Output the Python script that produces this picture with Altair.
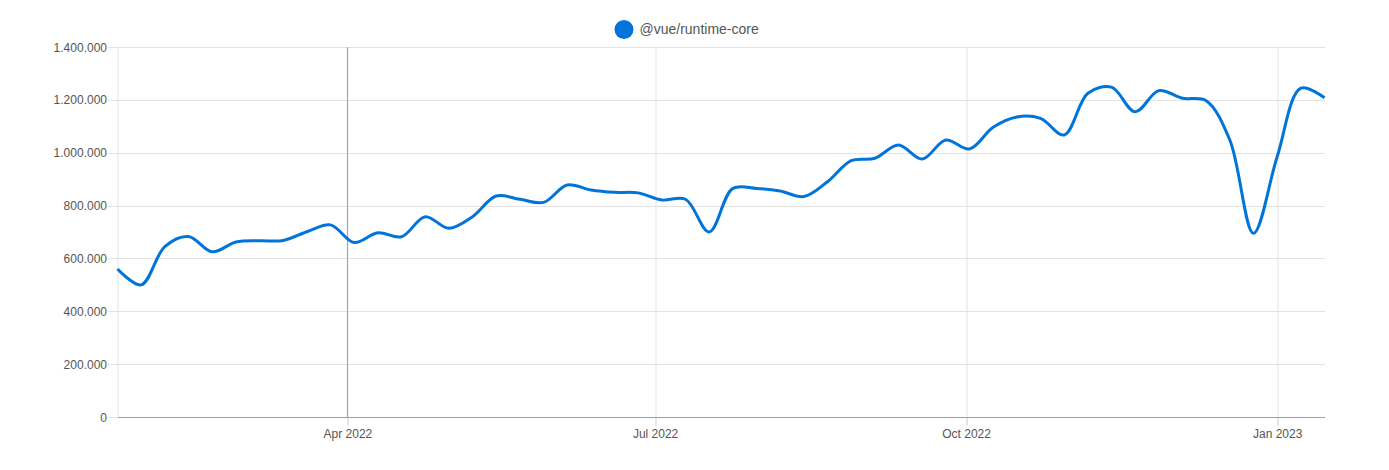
import altair as alt
import pandas as pd

# Weekly downloads, weeks ending Sunday
start_date = "2022-01-23"
n_weeks = 52
downloads = [
    560000, 500000, 645000, 683000, 625000, 662000, 667000, 668000, 701000, 727000,
    660000, 697000, 682000, 758000, 714000, 758000, 836000, 824000, 812000, 878000,
    859000, 850000, 848000, 821000, 824000, 700000, 865000, 865000, 855000, 834000,
    890000, 970000, 979000, 1029000, 976000, 1048000, 1014000, 1096000, 1135000, 1130000,
    1067000, 1225000, 1248000, 1155000, 1235000, 1206000, 1197000, 1048000, 695000, 985000,
    1244000, 1208000,
]
package = "@vue/runtime-core"
tick_dates = ["2022-04-01", "2022-07-01", "2022-10-01", "2023-01-01"]
highlight_dates = ["2022-04-01"]
y_ticks = [0, 200000, 400000, 600000, 800000, 1000000, 1200000, 1400000]

dates = pd.date_range(start_date, periods=n_weeks, freq="7D")
df = pd.DataFrame({"date": dates.strftime("%Y-%m-%d"), "downloads": downloads, "package": package})
hl = pd.DataFrame({"date": highlight_dates})

tick_values = [
    alt.DateTime(year=int(d[:4]), month=int(d[5:7]), date=int(d[8:10]), utc=True)
    for d in tick_dates
]

x_scale = alt.Scale(type="utc", nice=False, padding=0,
                    domain=[df["date"].iloc[0], df["date"].iloc[-1]])

line = alt.Chart(df).mark_line(
    interpolate="catmull-rom", strokeWidth=3, color="#0074d9"
).encode(
    x=alt.X("date:T", scale=x_scale, title=None,
            axis=alt.Axis(values=tick_values,
                          labelExpr="utcFormat(datum.value, '%b %Y')",
                          grid=True, gridColor="#e3e3e3", tickColor="#cccccc",
                          tickSize=8, labelPadding=3, domainColor="#9e9e9e",
                          labelColor="#555555", labelFont="Arial", labelFontSize=12,
                          labelAngle=0)),
    y=alt.Y("downloads:Q", scale=alt.Scale(domain=[0, 1400000], nice=False), title=None,
            axis=alt.Axis(values=y_ticks, grid=True, gridColor="#e3e3e3",
                          tickColor="#e3e3e3", tickSize=10, labelPadding=1,
                          domainColor="#e3e3e3",
                          labelExpr="replace(replace(format(datum.value, ',d'), ',', '.'), ',', '.')",
                          labelColor="#555555", labelFont="Arial", labelFontSize=12)),
    color=alt.Color("package:N", scale=alt.Scale(range=["#0074d9"]),
                    legend=alt.Legend(title=None, orient="none", legendX=497, legendY=-27,
                                      symbolType="circle", symbolSize=361,
                                      symbolStrokeWidth=0, symbolFillColor="#0074d9",
                                      labelFont="Arial", labelFontSize=14,
                                      labelColor="#555555", labelOffset=6, padding=0)),
)

rule = alt.Chart(hl).mark_rule(color="#a0a0a0", strokeWidth=1).encode(
    x=alt.X("date:T", scale=x_scale)
)

chart = alt.layer(rule, line).properties(
    width=1207, height=370,
    autosize=alt.AutoSizeParams(type="none"),
    padding={"left": 109.5, "top": 39, "right": 50, "bottom": 45},
).configure_view(stroke=None)

chart.save("out.html", embed_options={"renderer": "svg", "actions": False})
